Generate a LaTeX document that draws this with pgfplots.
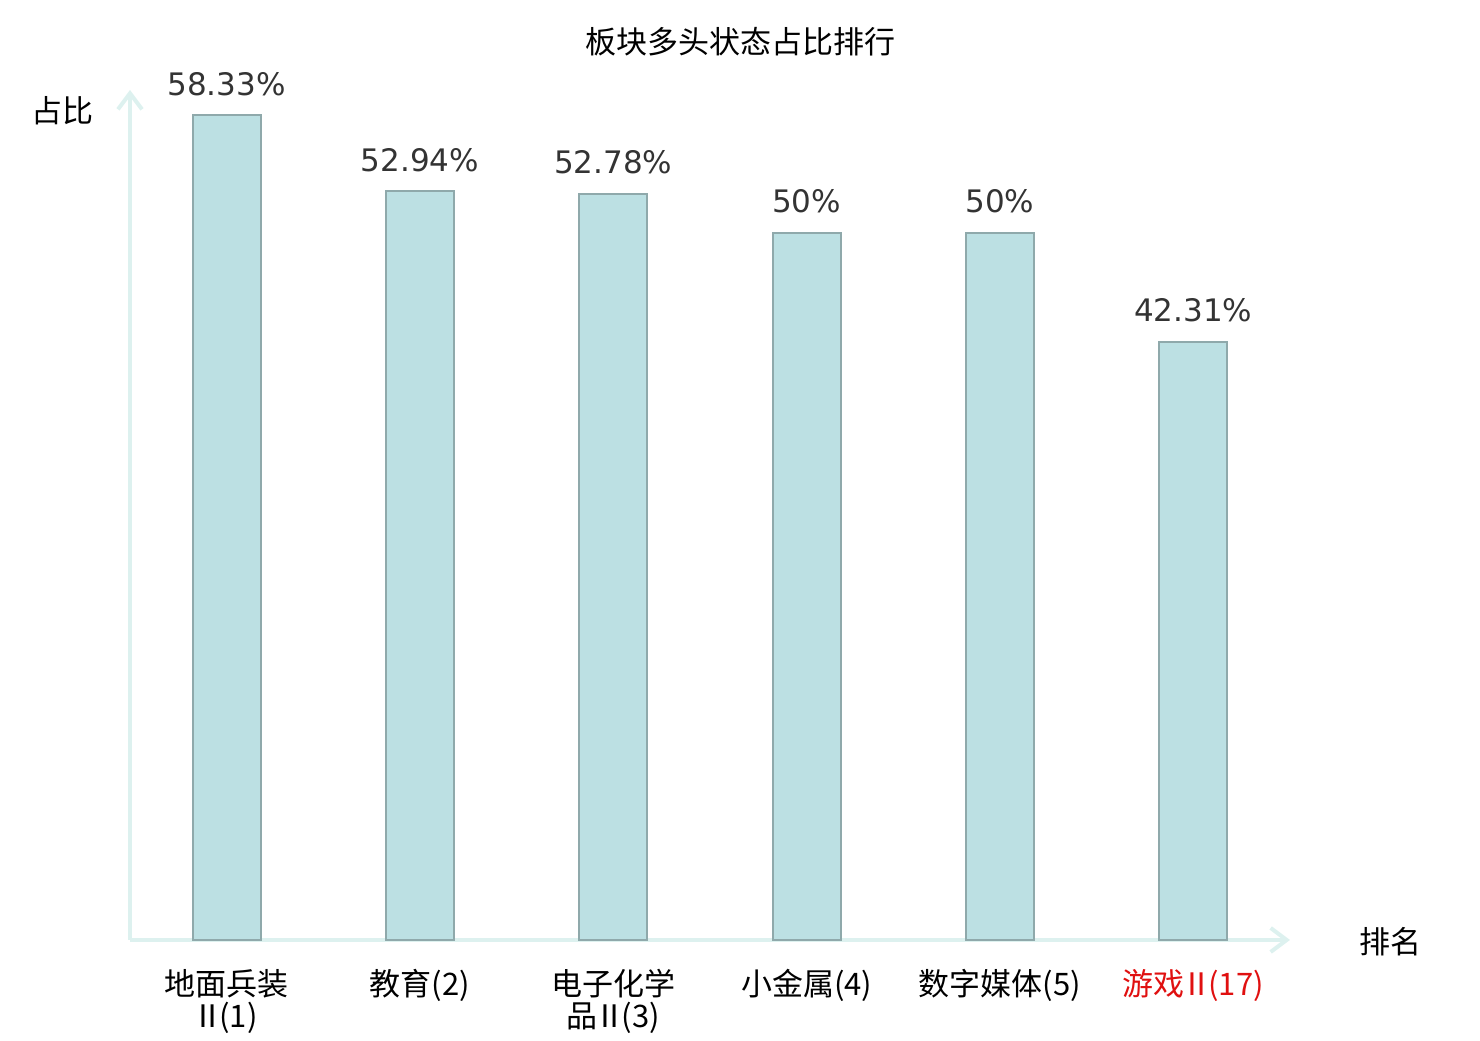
\documentclass[border=0pt]{standalone}
\usepackage{pgfplots}
\pgfplotsset{compat=1.18}
\usepackage{fontspec}
\setmainfont{DejaVu Sans}
\newfontfamily\cjk{Noto Sans CJK SC}
\usetikzlibrary{arrows.meta}
\definecolor{barfill}{HTML}{BCE0E3}
\definecolor{baredge}{HTML}{8FA9AB}
\definecolor{axcol}{HTML}{DDF1EF}
\definecolor{valtxt}{HTML}{333333}
\definecolor{redlab}{HTML}{E01010}
\newcommand{\R}{\kern-0.12em Ⅱ\kern-0.12em}
\begin{document}
\begin{tikzpicture}
\begin{axis}[
  scale only axis,
  width=580pt, height=425pt,
  xmin=-0.5, xmax=5.5,
  ymin=0, ymax=60.1,
  axis x line=bottom, axis y line=left,
  axis line style={draw=axcol, line width=2pt, -{Straight Barb[length=8pt,width=12pt,line width=2pt]}},
  ytick=\empty,
  xtick={0,1,2,3,4,5},
  major tick length=0pt,
  xticklabels={{地面兵装\\\R(1)},{教育(2)},{电子化学\\品\R(3)},{小金属(4)},{数字媒体(5)},{\color{redlab}游戏\R(17)}},
  xticklabel style={font=\cjk\fontsize{15.5}{16}\selectfont, align=center, yshift=-11pt, text=black},
  clip=false,
]
\addplot[ybar, bar width=34pt, fill=barfill, draw=baredge, line width=1pt,
  point meta=explicit symbolic,
  nodes near coords={\pgfplotspointmeta},
  every node near coord/.append style={anchor=base, yshift=10pt, inner sep=0pt, text=valtxt, font=\fontsize{15.5}{16}\selectfont}]
  coordinates {(0,58.33) [58.33\%] (1,52.94) [52.94\%] (2,52.78) [52.78\%] (3,50) [50\%] (4,50) [50\%] (5,42.31) [42.31\%]};
\node[font=\cjk\fontsize{15.5}{16}\selectfont] at (rel axis cs:0.526,1.0565) {板块多头状态占比排行};
\node[font=\cjk\fontsize{15.5}{16}\selectfont] at (rel axis cs:-0.0578,0.976) {占比};
\node[font=\cjk\fontsize{15.5}{16}\selectfont] at (rel axis cs:1.087,-0.002) {排名};
\end{axis}
\path[use as bounding box] (-65pt,-50pt) rectangle (675pt,470pt);
\end{tikzpicture}
\end{document}
